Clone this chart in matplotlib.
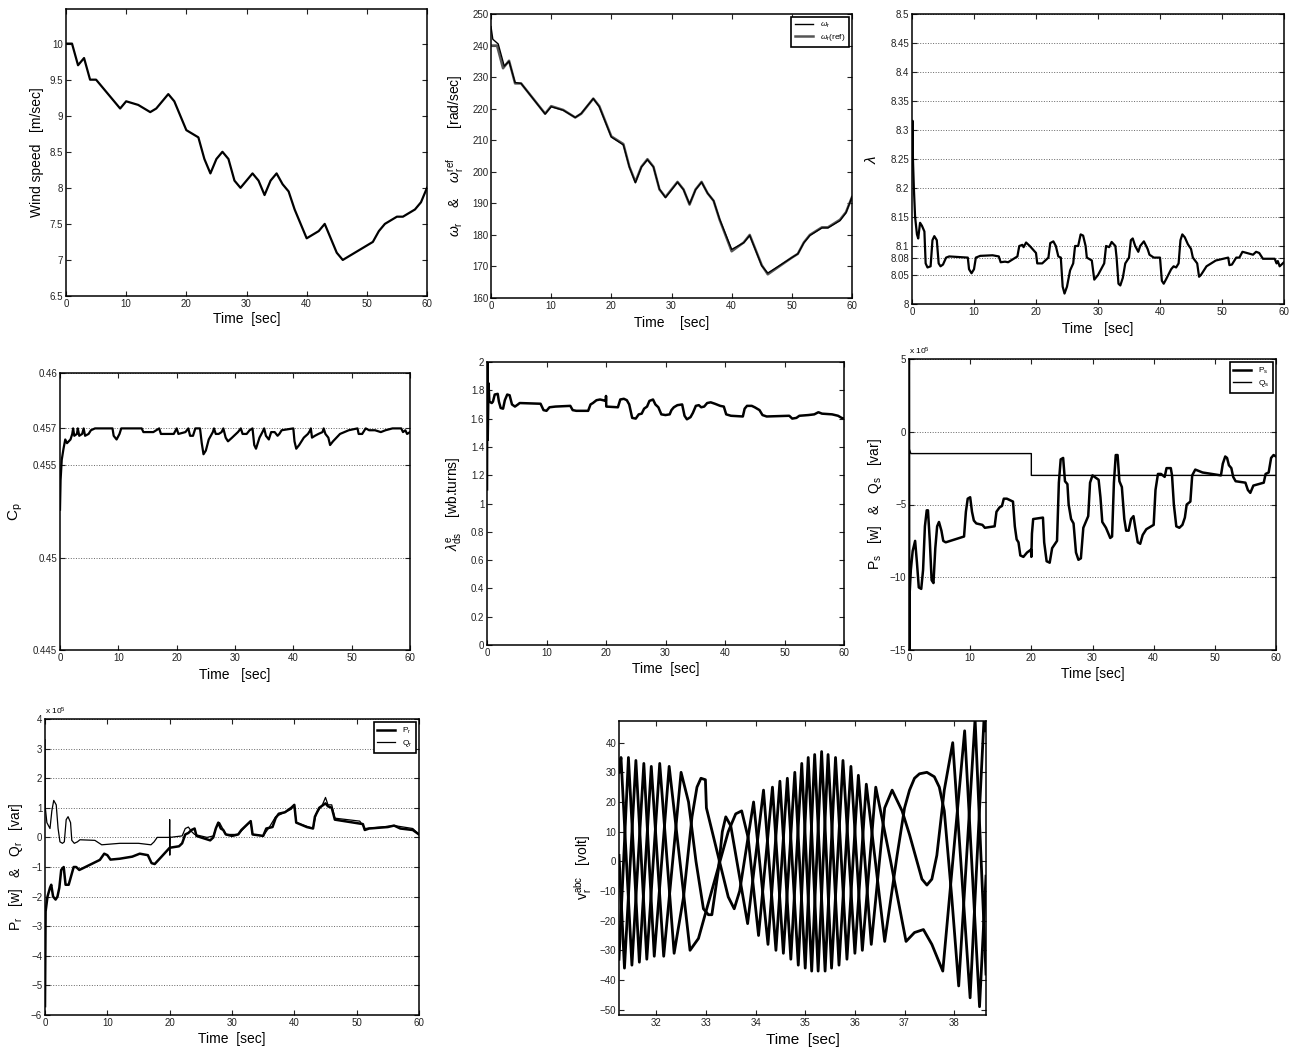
import matplotlib
matplotlib.use('Agg')
import matplotlib.pyplot as plt
from matplotlib.ticker import FuncFormatter

plt.rcParams['font.family'] = ['Liberation Sans', 'DejaVu Sans']
plt.rcParams['mathtext.fontset'] = 'custom'
plt.rcParams['mathtext.rm'] = 'Liberation Sans'
plt.rcParams['mathtext.it'] = 'Liberation Sans:italic'

# ---- wind speed [m/s]
wind_pts = [(0, 10), (1, 10), (2, 9.7), (3, 9.8), (4, 9.5), (5, 9.5), (9, 9.1), (10, 9.2),
            (12, 9.15), (14, 9.05), (15, 9.1), (17, 9.3), (18, 9.2), (20, 8.8), (22, 8.7),
            (23, 8.4), (24, 8.2), (25, 8.4), (26, 8.5), (27, 8.4), (28, 8.1), (29, 8.0),
            (31, 8.2), (32, 8.1), (33, 7.9), (34, 8.1), (35, 8.2), (36, 8.05), (37, 7.95),
            (38, 7.7), (40, 7.3), (42, 7.4), (43, 7.5), (45, 7.1), (46, 7.0), (50, 7.2),
            (51, 7.25), (52, 7.4), (53, 7.5), (55, 7.6), (56, 7.6), (58, 7.7), (59, 7.8), (60, 8.0)]

# ---- rotor speed and reference [rad/s]
wr_pts = [(0, 246), (0.3, 242), (1.2, 240.5), (2.2, 233.5), (3, 235), (4, 228.3), (5, 228),
          (9, 218.3), (10, 220.6), (12, 219.5), (14, 217.2), (15, 218.5), (17, 223.2), (18, 220.6),
          (20, 211), (22, 208.5), (23, 201.5), (24, 196.5), (25, 201.5), (26, 203.8), (27, 201.5),
          (28, 194.5), (29, 191.8), (31, 196.7), (32, 194.3), (33, 189.8), (34, 194.3), (35, 196.7),
          (36, 193.2), (37, 190.8), (38, 185), (40, 175.4), (42, 177.5), (43, 179.8), (45, 170.2),
          (46, 167.9), (50, 172.8), (51, 174), (52, 177.5), (53, 179.8), (55, 182.2), (56, 182.2),
          (58, 184.5), (59, 187), (60, 192)]
wref_pts = [(0, 240), (1, 240), (2, 232.8), (3, 235.2), (4, 228), (5, 228), (9, 218.4), (10, 220.8),
            (12, 219.6), (14, 217.2), (15, 218.4), (17, 223.2), (18, 220.8), (20, 211.2), (22, 208.8),
            (23, 201.6), (24, 196.8), (25, 201.6), (26, 204), (27, 201.6), (28, 194.4), (29, 192),
            (31, 196.8), (32, 194.4), (33, 189.6), (34, 194.4), (35, 196.8), (36, 193.2), (37, 190.8),
            (38, 184.8), (40, 174.8), (42, 177.6), (43, 180), (45, 170.4), (46, 167.5), (50, 172.8),
            (51, 174), (52, 177.6), (53, 180), (55, 182.4), (56, 182.4), (58, 184.8), (59, 187.2), (60, 192)]

# ---- tip speed ratio
lam_pts = [(0, 8.26), (0.08, 8.316), (0.15, 8.25), (0.3, 8.2), (0.5, 8.15), (0.8, 8.12), (1.0, 8.113),
           (1.3, 8.14), (1.6, 8.135), (2.0, 8.125), (2.2, 8.07), (2.5, 8.063), (3.0, 8.065), (3.3, 8.11),
           (3.6, 8.117), (4.0, 8.11), (4.3, 8.07), (4.6, 8.065), (5.0, 8.068), (5.5, 8.08), (6.0, 8.082),
           (9.0, 8.08), (9.2, 8.06), (9.6, 8.053), (10.0, 8.06), (10.3, 8.08), (11.0, 8.083), (13.0, 8.084),
           (14.0, 8.082), (14.3, 8.072), (15.0, 8.073), (15.5, 8.072), (17.0, 8.082), (17.3, 8.1),
           (17.8, 8.102), (18.0, 8.098), (18.4, 8.106), (19.0, 8.1), (20.0, 8.088), (20.2, 8.07),
           (21.0, 8.07), (22.0, 8.08), (22.3, 8.105), (22.8, 8.108), (23.2, 8.1), (23.6, 8.082),
           (24.0, 8.08), (24.3, 8.03), (24.6, 8.018), (25.0, 8.03), (25.5, 8.058), (26.0, 8.07),
           (26.3, 8.1), (26.8, 8.1), (27.2, 8.12), (27.6, 8.118), (28.0, 8.1), (28.2, 8.08), (29.0, 8.075),
           (29.4, 8.042), (30.0, 8.05), (31.0, 8.07), (31.3, 8.1), (31.8, 8.098), (32.2, 8.107),
           (32.8, 8.1), (33.0, 8.08), (33.3, 8.035), (33.6, 8.032), (34.0, 8.045), (34.4, 8.07),
           (35.0, 8.08), (35.3, 8.11), (35.6, 8.113), (36.0, 8.1), (36.5, 8.09), (36.8, 8.1),
           (37.4, 8.108), (38.0, 8.095), (38.3, 8.085), (39.0, 8.08), (40.0, 8.08), (40.3, 8.04),
           (40.6, 8.035), (41.0, 8.043), (41.8, 8.06), (42.2, 8.065), (42.6, 8.063), (43.0, 8.07),
           (43.3, 8.11), (43.6, 8.12), (44.0, 8.115), (44.5, 8.103), (45.0, 8.095), (45.3, 8.08),
           (46.0, 8.07), (46.3, 8.047), (46.6, 8.05), (47.5, 8.065), (49.0, 8.075), (51.0, 8.08),
           (51.2, 8.067), (51.6, 8.068), (52.3, 8.08), (52.8, 8.08), (53.3, 8.09), (54.0, 8.088),
           (55.0, 8.085), (55.5, 8.09), (56.0, 8.088), (56.6, 8.078), (58.5, 8.078), (58.8, 8.07),
           (59.0, 8.074), (59.3, 8.065), (60.0, 8.072)]

# ---- power coefficient
cp_pts = [(0, 0.4526), (0.1, 0.4542), (0.3, 0.4553), (0.6, 0.4559), (0.9, 0.4564), (1.2, 0.4562),
          (1.8, 0.4564), (2.1, 0.4567), (2.25, 0.457), (2.45, 0.4566), (2.9, 0.4567), (3.05, 0.457),
          (3.3, 0.4566), (3.8, 0.4567), (4.05, 0.457), (4.3, 0.4566), (4.9, 0.4567), (5.3, 0.4569),
          (6, 0.457), (9, 0.457), (9.2, 0.4566), (9.7, 0.4564), (10.2, 0.4567), (10.5, 0.457),
          (14, 0.457), (14.3, 0.4568), (16, 0.4568), (17, 0.457), (17.3, 0.4567), (19.5, 0.4567),
          (20, 0.457), (20.3, 0.4567), (21.5, 0.4568), (22, 0.457), (22.3, 0.4566), (22.8, 0.4566),
          (23.2, 0.457), (24, 0.457), (24.3, 0.4562), (24.6, 0.4556), (25, 0.4558), (25.5, 0.4564),
          (26.2, 0.4568), (26.4, 0.457), (26.7, 0.4567), (27.2, 0.4567), (27.7, 0.4568), (28, 0.457),
          (28.4, 0.4565), (28.8, 0.4563), (29.5, 0.4565), (30.5, 0.4568), (31, 0.457), (31.3, 0.4567),
          (32, 0.4567), (32.5, 0.4569), (33, 0.457), (33.3, 0.4561), (33.6, 0.4559), (34.2, 0.4565),
          (34.7, 0.4568), (35, 0.457), (35.3, 0.4566), (35.8, 0.4564), (36.2, 0.4568), (36.8, 0.4568),
          (37.3, 0.4566), (37.6, 0.4567), (38, 0.4569), (40, 0.457), (40.2, 0.4563), (40.5, 0.4559),
          (41, 0.4561), (41.8, 0.4565), (42.5, 0.4567), (42.9, 0.4569), (43, 0.457), (43.2, 0.4565),
          (43.7, 0.4566), (44.3, 0.4567), (45, 0.4568), (45.2, 0.457), (45.5, 0.4567), (46, 0.4565),
          (46.3, 0.4561), (46.8, 0.4563), (48, 0.4567), (49.5, 0.4569), (51, 0.457), (51.2, 0.4567),
          (51.8, 0.4567), (52.4, 0.457), (53, 0.4569), (54, 0.4569), (55, 0.4568), (55.8, 0.4569),
          (57, 0.457), (58.5, 0.457), (58.8, 0.4568), (59.2, 0.4569), (59.5, 0.4567), (60, 0.4568)]

# ---- stator d-axis flux [wb.turns]
lds_pts = [(0, 1.1), (0.06, 2.0), (0.12, 1.45), (0.25, 1.85), (0.4, 1.72), (0.8, 1.71), (1.0, 1.72),
           (1.3, 1.77), (1.8, 1.775), (2.0, 1.72), (2.3, 1.675), (2.7, 1.67), (3.0, 1.73), (3.4, 1.77),
           (3.8, 1.765), (4.2, 1.70), (4.7, 1.685), (5.2, 1.70), (5.5, 1.71), (9, 1.705), (9.5, 1.66),
           (10, 1.655), (10.5, 1.68), (11.5, 1.685), (14, 1.69), (14.4, 1.66), (15, 1.655), (17, 1.655),
           (17.4, 1.70), (17.8, 1.71), (18.4, 1.73), (19, 1.735), (19.98, 1.725), (20.0, 1.76),
           (20.05, 1.685), (22, 1.68), (22.4, 1.735), (23, 1.74), (23.5, 1.73), (23.9, 1.70),
           (24.4, 1.605), (25, 1.6), (25.5, 1.63), (26, 1.635), (26.4, 1.67), (26.9, 1.685),
           (27.3, 1.725), (27.9, 1.735), (28.3, 1.70), (28.8, 1.68), (29.3, 1.63), (30, 1.625),
           (30.7, 1.63), (31, 1.66), (31.4, 1.68), (32, 1.695), (32.8, 1.70), (33.2, 1.62),
           (33.6, 1.595), (34.2, 1.61), (34.6, 1.64), (35.1, 1.69), (35.6, 1.695), (36, 1.68),
           (36.5, 1.685), (37, 1.71), (37.6, 1.715), (38.3, 1.705), (39.2, 1.69), (39.8, 1.685),
           (40.2, 1.63), (41, 1.62), (43, 1.615), (43.3, 1.67), (43.7, 1.69), (44.5, 1.69), (45, 1.68),
           (45.8, 1.66), (46.3, 1.625), (47, 1.615), (50.8, 1.62), (51.3, 1.60), (52, 1.605),
           (52.5, 1.62), (54, 1.625), (55, 1.63), (55.7, 1.645), (56.3, 1.635), (58, 1.63), (59, 1.62),
           (59.6, 1.605), (60, 1.6)]

# ---- stator active / reactive power [x1e5]
ps_pts = [(0, 5.0), (0.04, -15.0), (0.12, -11.0), (0.3, -9.5), (0.6, -8.2), (1.0, -7.5), (1.3, -9.0),
          (1.6, -10.7), (2.0, -10.8), (2.3, -9.5), (2.6, -6.5), (2.9, -5.4), (3.1, -5.4), (3.4, -7.5),
          (3.7, -10.2), (4.0, -10.4), (4.3, -8.0), (4.6, -6.5), (4.9, -6.2), (5.3, -6.8), (5.6, -7.5),
          (6, -7.6), (9, -7.2), (9.3, -5.5), (9.6, -4.6), (10, -4.5), (10.3, -5.5), (10.6, -6.1),
          (11, -6.3), (12, -6.4), (12.4, -6.6), (14, -6.5), (14.3, -5.5), (14.8, -5.2), (15.2, -5.1),
          (15.5, -4.6), (16, -4.6), (17, -4.8), (17.3, -6.5), (17.6, -7.4), (17.9, -7.6), (18.2, -8.5),
          (18.7, -8.6), (19.3, -8.3), (19.95, -8.1), (20.0, -8.6), (20.1, -7.0), (20.3, -6.0),
          (21.9, -5.9), (22.1, -7.6), (22.5, -8.9), (23, -9.0), (23.4, -8.0), (24.2, -7.5),
          (24.5, -3.5), (24.8, -1.9), (25.2, -1.8), (25.5, -3.4), (25.9, -3.6), (26.1, -5.0),
          (26.5, -6.0), (26.9, -6.3), (27.3, -8.3), (27.7, -8.8), (28.1, -8.7), (28.5, -6.6),
          (29.3, -5.8), (29.6, -3.5), (30, -3.0), (31, -3.3), (31.3, -4.5), (31.6, -6.2), (32.2, -6.6),
          (32.9, -7.3), (33.2, -7.2), (33.5, -3.5), (33.8, -1.6), (34.1, -1.6), (34.4, -3.4),
          (34.8, -3.8), (35.2, -6.0), (35.5, -6.8), (35.9, -6.8), (36.3, -6.0), (36.7, -5.8),
          (37.0, -6.6), (37.4, -7.6), (37.8, -7.7), (38.2, -7.1), (38.8, -6.7), (40, -6.4),
          (40.3, -4.0), (40.7, -2.9), (41.2, -2.9), (41.8, -3.1), (42.1, -2.5), (42.8, -2.5),
          (43, -3.0), (43.3, -5.0), (43.7, -6.5), (44.2, -6.6), (44.7, -6.4), (45.1, -5.9), (45.4, -5.0),
          (46, -4.8), (46.3, -3.0), (46.8, -2.6), (48, -2.8), (51, -3.0), (51.3, -2.2), (51.7, -1.7),
          (52, -1.8), (52.3, -2.3), (52.7, -2.5), (53, -3.1), (53.4, -3.4), (55, -3.5), (55.4, -4.0),
          (55.8, -4.2), (56.3, -3.7), (58, -3.5), (58.3, -2.9), (58.8, -2.8), (59.2, -1.8),
          (59.6, -1.6), (60, -1.7)]
qs_pts = [(0, -13.0), (0.05, -1.2), (0.3, -1.5), (20, -1.5), (20, -3.0), (60, -3.0)]

# ---- rotor active / reactive power [x1e5]
pr_pts = [(0, -5.7), (0.1, -2.5), (0.4, -2.0), (0.8, -1.7), (1.0, -1.6), (1.3, -2.0), (1.7, -2.1),
          (2.0, -2.0), (2.3, -1.7), (2.6, -1.1), (3.0, -1.0), (3.3, -1.6), (3.8, -1.6), (4.2, -1.3),
          (4.6, -1.0), (5.0, -1.0), (5.5, -1.1), (6, -1.05), (8.8, -0.76), (9.5, -0.55), (10, -0.6),
          (10.5, -0.75), (12, -0.72), (14, -0.65), (15.2, -0.55), (16.5, -0.6), (17.1, -0.87),
          (17.6, -0.9), (18.7, -0.65), (20, -0.35), (21.5, -0.3), (22, -0.2), (22.5, 0.1), (23, 0.15),
          (23.5, 0.25), (24, 0.3), (24.3, 0.05), (25, 0.0), (26.5, -0.1), (27, 0.0), (27.4, 0.3),
          (27.8, 0.5), (28.2, 0.3), (28.6, 0.25), (29, 0.1), (30, 0.05), (31, 0.1), (31.5, 0.25),
          (32.5, 0.45), (33, 0.55), (33.3, 0.1), (35, 0.05), (35.5, 0.3), (36.5, 0.35), (37, 0.65),
          (37.5, 0.8), (38.5, 0.85), (39.5, 1.0), (40, 1.1), (40.3, 0.5), (42, 0.35), (43, 0.3),
          (43.3, 0.7), (44, 1.0), (45, 1.15), (45.4, 1.05), (46, 1.0), (46.5, 0.6), (48, 0.55),
          (51, 0.45), (51.3, 0.25), (52, 0.3), (55, 0.35), (56, 0.4), (57, 0.3), (59, 0.25), (60, 0.1)]
qr_pts = [(0, 3.3), (0.05, 1.0), (0.3, 0.5), (0.8, 0.3), (1.1, 0.9), (1.4, 1.25), (1.8, 1.1),
          (2.1, 0.3), (2.4, -0.15), (2.8, -0.2), (3.1, -0.15), (3.4, 0.6), (3.7, 0.7), (4.1, 0.5),
          (4.3, -0.1), (4.7, -0.2), (5.2, -0.15), (5.6, -0.08), (8, -0.1), (9.1, -0.25), (12, -0.2),
          (15, -0.2), (17, -0.25), (17.5, -0.15), (18, 0.0), (19.98, 0.0), (20.0, 0.6), (20.02, -0.6),
          (20.05, 0.0), (22, 0.05), (22.5, 0.3), (23, 0.35), (23.5, 0.2), (24, 0.1), (26, 0.0),
          (27, 0.05), (27.5, 0.35), (28, 0.5), (28.5, 0.3), (29, 0.1), (31, 0.1), (32.5, 0.45),
          (33, 0.55), (33.3, 0.1), (35, 0.05), (36, 0.35), (37, 0.7), (38, 0.8), (39.5, 0.95),
          (40, 1.1), (40.3, 0.5), (43, 0.3), (43.5, 0.8), (44.5, 1.1), (45, 1.35), (45.4, 1.1),
          (46, 1.1), (46.5, 0.65), (50.5, 0.55), (51, 0.4), (51.3, 0.3), (54, 0.35), (56, 0.4),
          (59, 0.3), (60, 0.1)]

# ---- rotor three-phase voltages [V], points read phase by phase
va_pts = [(31.25, 30), (31.29, 35), (31.51, -35), (31.75, 33), (31.96, -32), (32.26, 32), (32.68, -30),
          (32.85, -26), (33.05, -14), (33.25, -2), (33.45, 10), (33.6, 16), (33.72, 17), (33.85, 8),
          (34.06, -25), (34.34, 25), (34.56, -31), (34.79, 30), (35.00, -36), (35.19, 36), (35.40, -37),
          (35.61, 35), (35.84, -33), (36.07, 29), (36.33, -28), (36.6, 18), (36.75, 24), (36.95, 17),
          (37.1, 9), (37.25, 0), (37.35, -6), (37.45, -8), (37.55, -6), (37.65, 2), (37.8, 24),
          (37.97, 40), (38.32, -46), (38.60, 48), (38.64, 44)]
vb_pts = [(31.25, -33), (31.44, 35), (31.66, -34), (31.90, 32), (32.15, -32), (32.50, 30), (32.65, 20),
          (32.8, 0), (32.95, -16), (33.05, -18), (33.12, -18), (33.25, -3), (33.33, 10), (33.40, 15),
          (33.5, 12), (33.84, -21), (34.16, 24), (34.41, -30), (34.64, 28), (34.86, -35), (35.06, 35),
          (35.26, -37), (35.46, 36), (35.68, -35), (35.92, 32), (36.15, -30), (36.42, 25), (36.72, 0),
          (37.03, -27), (37.2, -24), (37.38, -23), (37.55, -28), (37.77, -37), (38.21, 44),
          (38.51, -49), (38.64, -5)]
vc_pts = [(31.25, 2), (31.36, -36), (31.59, 34), (31.81, -33), (32.07, 33), (32.36, -31), (32.55, -12),
          (32.72, 15), (32.82, 25), (32.9, 28), (32.99, 27.5), (33.01, 18), (33.2, 5), (33.45, -12),
          (33.57, -16), (33.68, -10), (33.96, 20), (34.25, -28), (34.49, 27), (34.71, -33), (34.93, 33),
          (35.13, -37), (35.33, 37), (35.53, -36), (35.76, 34), (36.00, -31), (36.23, 26), (36.60, -27),
          (36.85, 2), (37.0, 18), (37.1, 24), (37.2, 28), (37.3, 29.5), (37.45, 30), (37.6, 28.5),
          (37.7, 25), (37.8, 17), (37.95, -12), (38.09, -42), (38.42, 48), (38.64, -38)]


def xy(pts):
    return [p[0] for p in pts], [p[1] for p in pts]


def fmt(v, pos):
    return ('%g' % v).replace('-', '\u2212')


def style(ax, xlim, ylim, xticks, yticks, grid=False):
    ax.set_xlim(*xlim)
    ax.set_ylim(*ylim)
    ax.set_xticks(xticks)
    ax.set_yticks(yticks)
    ax.xaxis.set_major_formatter(FuncFormatter(fmt))
    ax.yaxis.set_major_formatter(FuncFormatter(fmt))
    ax.tick_params(direction='in', top=True, right=True, length=3.5, width=0.8,
                   labelsize=7, pad=2, colors='#222222')
    for s in ax.spines.values():
        s.set_linewidth(1.1)
    if grid:
        ax.yaxis.grid(True, linestyle=':', color='#666666', linewidth=0.7)
    ax.set_axisbelow(True)


W, H = 1290, 1050
fig = plt.figure(figsize=(12.9, 10.5), dpi=100)


def box(x0, y0, x1, y1):
    return fig.add_axes([x0 / W, 1 - y1 / H, (x1 - x0) / W, (y1 - y0) / H])


t60 = range(0, 61, 10)
LAB = 10

# 1: wind speed
ax = box(66, 9, 427, 296)
ax.plot(*xy(wind_pts), color='k', lw=1.6)
style(ax, (0, 60), (6.5, 10.48), t60, [6.5, 7, 7.5, 8, 8.5, 9, 9.5, 10])
ax.set_xlabel('Time  [sec]', fontsize=LAB, labelpad=2)
ax.set_ylabel('Wind speed   [m/sec]', fontsize=LAB)

# 2: rotor speed
ax = box(491, 14, 852, 298)
l2, = ax.plot(*xy(wref_pts), color='#555555', lw=1.8)
l1, = ax.plot(*xy(wr_pts), color='k', lw=1.0)
style(ax, (0, 60), (160, 250), t60, range(160, 251, 10))
ax.set_xlabel('Time    [sec]', fontsize=LAB, labelpad=4)
ax.set_ylabel(r'$\omega_\mathrm{r}$    &    $\omega_\mathrm{r}^\mathrm{ref}$        [rad/sec]',
              fontsize=LAB)
leg = ax.legend([l1, l2], [r'$\omega_\mathrm{r}$', r'$\omega_\mathrm{r}$(ref)'], loc='upper right',
                fontsize=6, fancybox=False, edgecolor='k', framealpha=1, handlelength=2.2,
                borderaxespad=0.4, labelspacing=0.3)
leg.get_frame().set_linewidth(1.2)

# 3: lambda
ax = box(912, 14, 1284, 304)
ax.plot(*xy(lam_pts), color='k', lw=1.6)
style(ax, (0, 60), (8, 8.5), t60,
      [8, 8.05, 8.08, 8.1, 8.15, 8.2, 8.25, 8.3, 8.35, 8.4, 8.45, 8.5], grid=True)
ax.set_xlabel('Time   [sec]', fontsize=LAB, labelpad=4)
ax.set_ylabel(r'$\lambda$', fontsize=LAB + 1, labelpad=8)

# 4: Cp
ax = box(60, 373, 410, 650)
ax.plot(*xy(cp_pts), color='k', lw=1.6)
style(ax, (0, 60), (0.445, 0.46), t60, [0.445, 0.45, 0.455, 0.457, 0.46], grid=True)
ax.set_xlabel('Time   [sec]', fontsize=LAB, labelpad=4)
ax.set_ylabel(r'C$_\mathrm{p}$', fontsize=LAB + 1, labelpad=6)

# 5: flux
ax = box(487, 362, 844, 645)
ax.plot(*xy(lds_pts), color='k', lw=1.8)
style(ax, (0, 60), (0, 2), t60, [0, 0.2, 0.4, 0.6, 0.8, 1, 1.2, 1.4, 1.6, 1.8, 2])
ax.set_xlabel('Time  [sec]', fontsize=LAB, labelpad=3)
ax.set_ylabel(r'$\lambda^\mathrm{e}_\mathrm{ds}$    [wb.turns]', fontsize=LAB)

# 6: stator power
ax = box(909, 359, 1276, 650)
p1, = ax.plot(*xy(ps_pts), color='k', lw=1.8)
p2, = ax.plot(*xy(qs_pts), color='k', lw=1.0)
style(ax, (0, 60), (-15, 5), t60, [-15, -10, -5, 0, 5], grid=True)
ax.set_xlabel('Time [sec]', fontsize=LAB, labelpad=3)
ax.set_ylabel(r'P$_\mathrm{s}$   [w]   &   Q$_\mathrm{s}$   [var]', fontsize=LAB)
ax.text(0, 1.008, r'x 10$^5$', transform=ax.transAxes, fontsize=6, ha='left', va='bottom')
leg = ax.legend([p1, p2], [r'P$_\mathrm{s}$', r'Q$_\mathrm{s}$'], loc='upper right', fontsize=6,
                fancybox=False, edgecolor='k', framealpha=1, handlelength=2.2, borderaxespad=0.4,
                labelspacing=0.3)
leg.get_frame().set_linewidth(1.2)

# 7: rotor power
ax = box(45, 719, 419, 1015)
p1, = ax.plot(*xy(pr_pts), color='k', lw=1.8)
p2, = ax.plot(*xy(qr_pts), color='k', lw=0.9)
style(ax, (0, 60), (-6, 4), t60, range(-6, 5), grid=True)
ax.set_xlabel('Time  [sec]', fontsize=LAB, labelpad=3)
ax.set_ylabel(r'P$_\mathrm{r}$   [w]   &   Q$_\mathrm{r}$   [var]', fontsize=LAB)
ax.text(0, 1.008, r'x 10$^5$', transform=ax.transAxes, fontsize=6, ha='left', va='bottom')
leg = ax.legend([p1, p2], [r'P$_\mathrm{r}$', r'Q$_\mathrm{r}$'], loc='upper right', fontsize=6,
                fancybox=False, edgecolor='k', framealpha=1, handlelength=2.2, borderaxespad=0.4,
                labelspacing=0.3)
leg.get_frame().set_linewidth(1.2)

# 8: rotor voltages
ax = box(619, 721, 986, 1015)
for pts in (va_pts, vb_pts, vc_pts):
    ax.plot(*xy(pts), color='k', lw=2.0, solid_joinstyle='round')
style(ax, (31.25, 38.64), (-51.8, 47.3), range(32, 39), range(-50, 41, 10))
ax.set_xlabel('Time  [sec]', fontsize=LAB + 1, labelpad=4)
ax.set_ylabel(r'v$_\mathrm{r}^\mathrm{abc}$   [volt]', fontsize=LAB)

fig.savefig('out.png', dpi=100)
print('done')
